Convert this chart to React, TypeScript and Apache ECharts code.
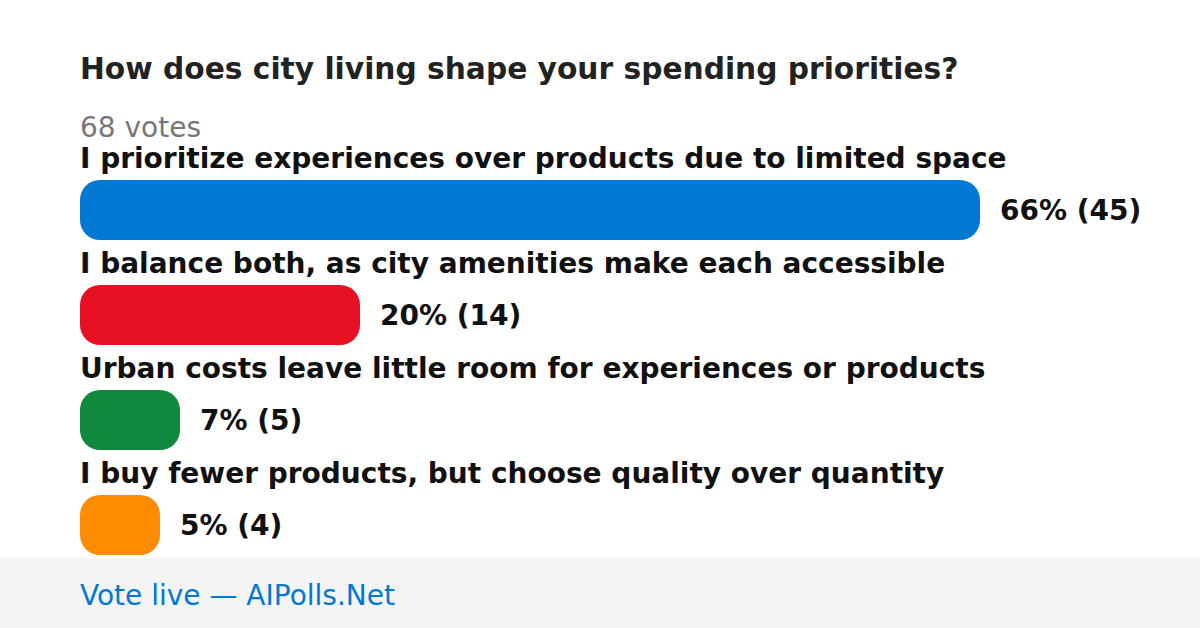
import React, { useEffect, useRef } from "react";
import * as echarts from "echarts";

const categories = [
  "I prioritize experiences over products due to limited space",
  "I balance both, as city amenities make each accessible",
  "Urban costs leave little room for experiences or products",
  "I buy fewer products, but choose quality over quantity",
];
const votes = [45, 14, 5, 4];
const percents = [66, 20, 7, 5];
const colors = ["#0078D4", "#E81123", "#10893E", "#FF8C00"];
const title = "How does city living shape your spending priorities?";
const subtitle = "68 votes";
const footer = "Vote live — AIPolls.Net";

const FONT = "DejaVu Sans";

export default function App() {
  const ref = useRef<HTMLDivElement>(null);
  useEffect(() => {
    if (!ref.current) return;
    const chart = echarts.init(ref.current, null, { renderer: "svg" });
    chart.setOption({
      animation: false,
      backgroundColor: "#ffffff",
      grid: { left: 80, top: 157.5, width: 900, height: 420, containLabel: false },
      xAxis: { type: "value", min: 0, max: Math.max(...votes), show: false },
      yAxis: {
        type: "category",
        inverse: true,
        data: categories,
        show: false,
      },
      graphic: [
        {
          type: "rect",
          shape: { x: 0, y: 558, width: 1200, height: 70 },
          style: { fill: "#f4f4f4" },
          silent: true,
        },
        {
          type: "text",
          x: 80,
          y: 68,
          style: {
            text: title,
            font: `bold 29.7px "${FONT}"`,
            fill: "#222222",
            verticalAlign: "middle",
          },
        },
        {
          type: "text",
          x: 80,
          y: 127,
          style: {
            text: subtitle,
            font: `28px "${FONT}"`,
            fill: "#777777",
            verticalAlign: "middle",
          },
        },
        {
          type: "text",
          x: 80,
          y: 595,
          style: {
            text: footer,
            font: `28px "${FONT}"`,
            fill: "#0078D4",
            verticalAlign: "middle",
          },
        },
      ],
      series: [
        {
          type: "bar",
          data: votes.map((v, i) => ({ value: v, itemStyle: { color: colors[i] } })),
          barWidth: 60,
          itemStyle: { borderRadius: 20 },
          label: {
            show: true,
            position: "right",
            distance: 20,
            formatter: (p: any) => `${percents[p.dataIndex]}% (${votes[p.dataIndex]})`,
            fontFamily: FONT,
            fontWeight: "bold",
            fontSize: 28,
            color: "#111111",
          },
          z: 2,
        },
        {
          type: "bar",
          data: votes,
          barWidth: 60,
          barGap: "-100%",
          itemStyle: { color: "rgba(0,0,0,0)" },
          label: {
            show: true,
            position: [0, -22],
            verticalAlign: "middle",
            align: "left",
            formatter: "{b}",
            fontFamily: FONT,
            fontWeight: "bold",
            fontSize: 28,
            color: "#111111",
          },
          silent: true,
          z: 1,
        },
      ],
    });
    return () => chart.dispose();
  }, []);
  return (
    <div
      ref={ref}
      style={{ position: "fixed", left: 0, top: 0, width: 1200, height: 628 }}
    />
  );
}
